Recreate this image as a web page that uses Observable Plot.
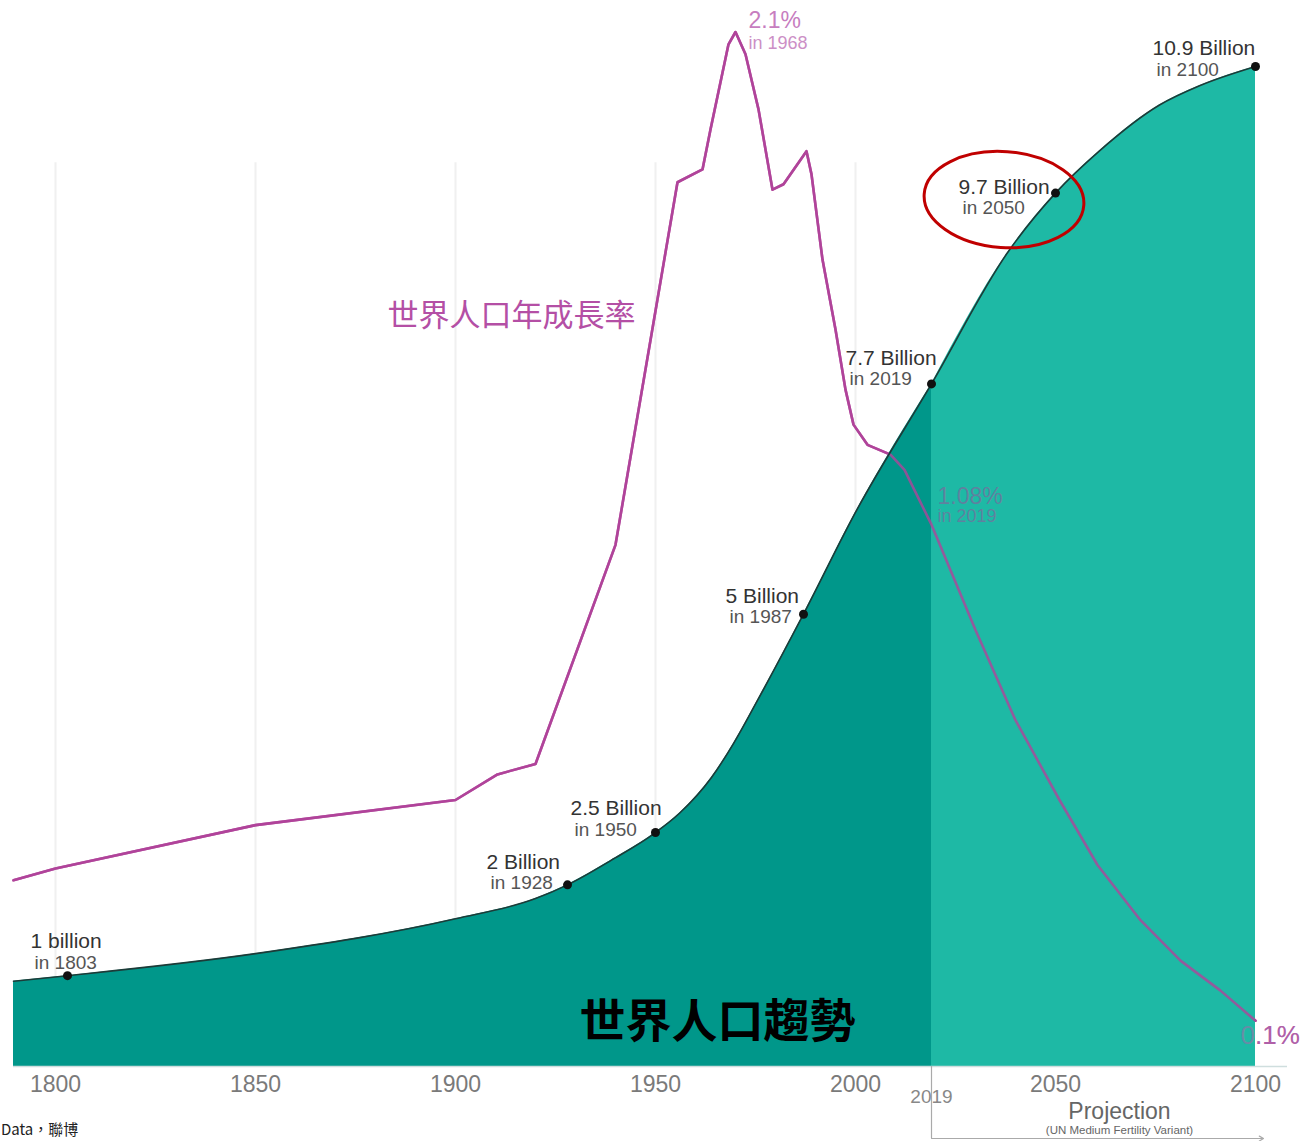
<!DOCTYPE html>
<html><head><meta charset="utf-8">
<script src="https://cdn.jsdelivr.net/npm/d3@7"></script>
<script src="https://cdn.jsdelivr.net/npm/@observablehq/plot@0.6"></script>
<style>
html,body{margin:0;padding:0;overflow:hidden;background:#fff;width:1303px;height:1141px;}
#chart{position:absolute;left:0;top:0;width:1303px;height:1141px;}
#caption{position:absolute;top:1120px;left:1px;white-space:nowrap;font-size:15px;line-height:1.2;font-family:"Noto Sans CJK TC",sans-serif;color:#222;}
</style></head><body>
<div id="chart"></div>
<div id="caption">Data，聯博</div>
<script>
// ---- data ----
const popYears    = [1789.5, 1803, 1850, 1900, 1920, 1928, 1939, 1950, 1956, 1964, 1969.5, 1975.5, 1987, 2000, 2019, 2038, 2050, 2061, 2076, 2086, 2100];
const popBillions = [0.93, 0.99, 1.23, 1.61, 1.83, 1.98, 2.25, 2.55, 2.76, 3.15, 3.52, 3.99, 4.93, 6.04, 7.44, 8.87, 9.52, 9.98, 10.48, 10.69, 10.90];

const rateYears = [1789.5, 1800, 1850, 1900, 1910.5, 1920, 1940, 1955.5, 1961.75, 1963.75, 1968.25, 1970, 1972.5, 1975.75, 1979.25, 1982, 1987.75, 1989, 1991.75, 1995, 1997.5, 1999.5, 2003, 2008.75, 2012.25, 2019, 2030, 2040, 2051, 2060.5, 2071.25, 2081.25, 2091.25, 2100];
const ratePct   = [0.378, 0.402, 0.490, 0.541, 0.593, 0.614, 1.059, 1.795, 1.821, 1.902, 2.075, 2.100, 2.055, 1.943, 1.780, 1.791, 1.858, 1.811, 1.638, 1.496, 1.374, 1.303, 1.262, 1.242, 1.211, 1.100, 0.886, 0.703, 0.541, 0.409, 0.297, 0.215, 0.154, 0.093];

const milestoneYears  = [1803, 1928, 1950, 1987, 2019, 2050, 2100];
const milestoneLabels = ["1 billion", "2 Billion", "2.5 Billion", "5 Billion", "7.7 Billion", "9.7 Billion", "10.9 Billion"];
const tickYears = [1800, 1850, 1900, 1950, 2000, 2050, 2100];
const gridYears = [1800, 1850, 1900, 1950, 2000];
const projectionStart = 2019, projectionEnd = 2100;
const ratePeak = {year: 1970, pct: 2.1, label: "2.1%", sub: "in 1968"};
const rateNow  = {year: 2019, pct: 1.10, label: "1.08%", sub: "in 2019"};
const rateEnd  = {year: 2100, pct: 0.093, label: "0.1%"};
const rateTitle = "世界人口年成長率";
const popTitle  = "世界人口趨勢";
const projTitle = "Projection";
const projSub   = "(UN Medium Fertility Variant)";

// ---- layout (not data) ----
const POP_TOP = 10.9, RATE_TOP = 2.03, k = POP_TOP / RATE_TOP;
const FONT = "'Liberation Sans', Arial, Helvetica, sans-serif";
const CJK = "'Noto Sans CJK TC', 'Noto Sans CJK SC', sans-serif";
const MAG = "#b0449a";
const labelOffsets = [[-37,-34],[-81,-23],[-85,-24],[-78,-18],[-86,-26],[-97,-6],[-103,-18]];
const bracketY = -0.785;

const pop = popYears.map((year, i) => ({year, value: popBillions[i]}));
const rate = rateYears.map((year, i) => ({year, value: ratePct[i] * k}));
const hist = pop.filter(d => d.year <= projectionStart);
const proj = pop.filter(d => d.year >= projectionStart);
const milestones = milestoneYears.map((year, i) => ({year, value: popBillions[popYears.indexOf(year)], label: milestoneLabels[i]}));

const rateLabelMarks = (opacity) => [
  Plot.text([rateNow], {x: "year", y: d => d.pct * k, text: "label", dx: 6, dy: -28, textAnchor: "start", fontSize: 23, fill: "#a04a9a", fillOpacity: opacity, fontFamily: FONT}),
  Plot.text([rateNow], {x: "year", y: d => d.pct * k, text: "sub", dx: 6, dy: -8, textAnchor: "start", fontSize: 18, fill: "#a04a9a", fillOpacity: opacity, fontFamily: FONT}),
  Plot.text([rateEnd], {x: "year", y: d => d.pct * k, text: "label", dx: -15, dy: 15, textAnchor: "start", fontSize: 26, fill: "#b060a8", fillOpacity: opacity, fontFamily: FONT})
];

const marks = [
  Plot.ruleX(gridYears, {y1: 0, y2: 9.85, stroke: "#f0f0f0", strokeWidth: 2}),
  Plot.line(rate, {x: "year", y: "value", stroke: MAG, strokeWidth: 2.6}),
  ...rateLabelMarks(1),
  Plot.areaY(hist, {x: "year", y: "value", fill: "#00978a", curve: "monotone-x"}),
  Plot.areaY(proj, {x: "year", y: "value", fill: "#1eb9a5", curve: "monotone-x"}),
  Plot.line(rate, {x: "year", y: "value", stroke: MAG, strokeWidth: 2.6, strokeOpacity: 0.8}),
  ...rateLabelMarks(0.5),
  Plot.ruleY([0], {x1: popYears[0], x2: 2108, stroke: "#cfdede", strokeWidth: 1.5}),
  Plot.ruleX([projectionStart], {y1: 0, y2: bracketY, stroke: "#aaa", strokeWidth: 1.2}),
  Plot.arrow([{}], {x1: projectionStart, x2: projectionEnd + 2, y1: bracketY, y2: bracketY, stroke: "#aaa", strokeWidth: 1.2, headLength: 6}),
  Plot.line(pop, {x: "year", y: "value", curve: "monotone-x", stroke: "#1d3b38", strokeWidth: 1.6}),
  Plot.dot(milestones, {x: "year", y: "value", r: 4.5, fill: "#111", stroke: null}),
  ...milestones.flatMap((m, i) => [
    Plot.text([m], {x: "year", y: "value", text: "label", dx: labelOffsets[i][0], dy: labelOffsets[i][1], textAnchor: "start", fontSize: 21, fill: "#333", fontFamily: FONT}),
    Plot.text([m], {x: "year", y: "value", text: d => "in " + d.year, dx: labelOffsets[i][0] + 4, dy: labelOffsets[i][1] + 21, textAnchor: "start", fontSize: 19, fill: "#555", fontFamily: FONT})
  ]),
  Plot.text([ratePeak], {x: "year", y: d => d.pct * k, text: "label", dx: 13, dy: -11, textAnchor: "start", fontSize: 23, fill: "#c77dbf", fontFamily: FONT}),
  Plot.text([ratePeak], {x: "year", y: d => d.pct * k, text: "sub", dx: 13, dy: 11, textAnchor: "start", fontSize: 18, fill: "#cc8fc6", fontFamily: FONT}),
  Plot.text([{year: 1914, pct: 1.524}], {x: "year", y: d => d.pct * k, text: () => rateTitle, fontSize: 31, fill: "#b44fa5", fontFamily: CJK}),
  Plot.text([{year: 1965.5, value: 0.48}], {x: "year", y: "value", text: () => popTitle, fontSize: 46, fontWeight: "bold", fill: "#000", fontFamily: CJK}),
  Plot.text(tickYears, {x: d => d, y: 0, dy: 18, text: d => String(d), fontSize: 23, fill: "#7a7a7a", fontFamily: FONT}),
  Plot.text([projectionStart], {x: d => d, y: 0, dy: 30, text: d => String(d), fontSize: 19, fill: "#888", fontFamily: FONT}),
  Plot.text([{year: 2066}], {x: "year", y: 0, dy: 45, text: () => projTitle, fontSize: 23, fill: "#666", fontFamily: FONT}),
  Plot.text([{year: 2066}], {x: "year", y: 0, dy: 64, text: () => projSub, fontSize: 11.5, fill: "#666", fontFamily: FONT})
];

const chart = Plot.plot({
  width: 1303, height: 1141,
  marginLeft: 55, marginRight: 48, marginTop: 66, marginBottom: 75,
  x: {domain: [1800, 2100], axis: null},
  y: {domain: [0, POP_TOP], axis: null},
  style: {background: "white", overflow: "visible", fontFamily: FONT},
  marks
});

// red highlight ellipse around the 2050 milestone
const m2050 = milestones.find(m => m.year === 2050);
const cx = chart.scale("x").apply(m2050.year) - 51;
const cy = chart.scale("y").apply(m2050.value) + 7;
d3.select(chart).append("ellipse")
  .attr("cx", cx).attr("cy", cy).attr("rx", 80).attr("ry", 48)
  .attr("transform", `rotate(4 ${cx} ${cy})`)
  .attr("fill", "none").attr("stroke", "#c00000").attr("stroke-width", 3);

document.getElementById("chart").appendChild(chart);
</script>
</body></html>
